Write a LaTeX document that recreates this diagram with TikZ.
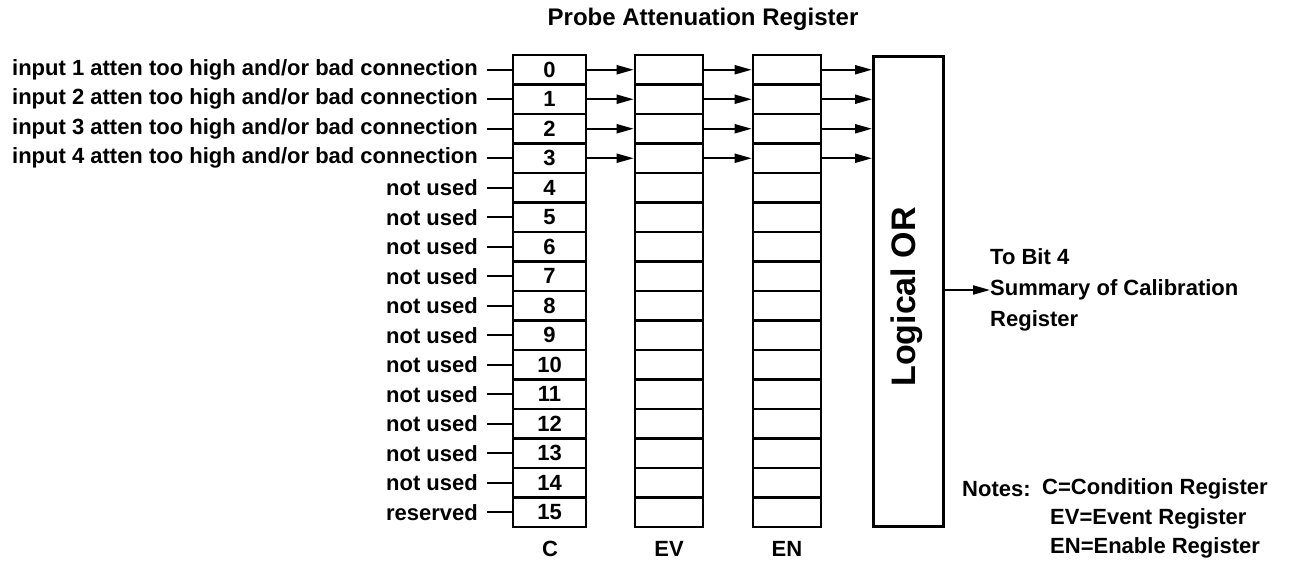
\documentclass[tikz,border=0pt]{standalone}
\usepackage{fontspec}
\setmainfont{Liberation Sans}
\usetikzlibrary{arrows.meta}
\begin{document}
\begin{tikzpicture}[x=1pt,y=-1pt,
  txt/.style={font=\fontsize{22}{26}\selectfont\bfseries, inner sep=0pt},
  cell/.style={draw, line width=2.6pt, minimum height=29.5pt, inner sep=0pt, font=\fontsize{22}{26}\selectfont\bfseries},
  arr/.style={line width=2pt, -{Triangle[length=17pt,width=9pt]}},
  lin/.style={line width=2pt}]
\useasboundingbox (0,0) rectangle (1297,564);
\node[font=\fontsize{24}{28}\selectfont\bfseries, inner sep=0pt] (title) at (703,19) {Probe Attenuation Register};
\foreach \i in {0,...,15}{
  \pgfmathsetmacro\yy{55+29.5*(\i+0.5)}
  \node[cell, minimum width=73pt] (c\i) at (549.5,\yy) {\i};
  \node[cell, minimum width=68pt] (v\i) at (669,\yy) {};
  \node[cell, minimum width=68pt] (n\i) at (787,\yy) {};
}
\node[draw, line width=2.6pt, minimum width=70pt, minimum height=470pt, inner sep=0pt, anchor=north west] (or) at (872,55) {};
\node[rotate=90, font=\fontsize{34}{40}\selectfont\bfseries, inner sep=0pt] (ortext) at (907,297) {Logical OR};
\foreach \i in {0,...,3}{
  \pgfmathtruncatemacro\k{\i+1}
  \node[txt, anchor=east] (l\i) at (c\i.west -| 478,0) {input \k\ atten too high and/or bad connection};
  \draw[arr] (c\i) -- (v\i);
  \draw[arr] (v\i) -- (n\i);
  \draw[arr] (n\i.east) -- (n\i.east -| or.west);
}
\foreach \i in {4,...,14}{
  \node[txt, anchor=east] (l\i) at (c\i.west -| 478,0) {not used};
}
\node[txt, anchor=east] (l15) at (c15.west -| 478,0) {reserved};
\foreach \i in {0,...,15}{
  \draw[lin, shorten <=9pt] (l\i.east) -- (c\i.west);
}
\node[txt] (lc) at (550,549) {C};
\node[txt] (lv) at (669,549) {EV};
\node[txt] (ln) at (787,549) {EN};
\node[txt, anchor=west, align=left, font=\fontsize{22}{31}\selectfont\bfseries] (out) at (990,290) {To Bit 4\\Summary of Calibration\\Register};
\coordinate (outtip) at (990,290);
\draw[arr] (or.east |- outtip) -- (outtip);
\node[txt, anchor=west] (notes) at (962,489) {Notes:};
\node[txt, anchor=west] (n1) at (1042,489) {C=Condition Register};
\node[txt, anchor=west] (n2) at (1050,519) {EV=Event Register};
\node[txt, anchor=west] (n3) at (1050,548) {EN=Enable Register};
\end{tikzpicture}
\end{document}
